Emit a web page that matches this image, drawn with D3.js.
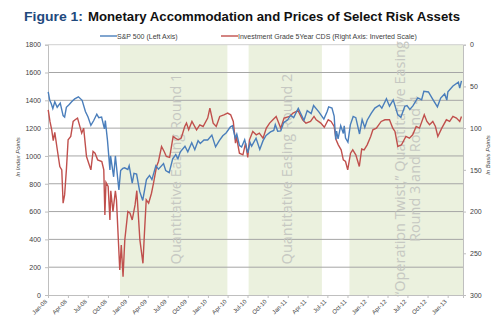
<!DOCTYPE html>
<html lang="en">
<head>
  <meta charset="UTF-8" />
  <title>Monetary Accommodation and Prices of Select Risk Assets</title>
  <script src="https://cdn.jsdelivr.net/npm/d3@7"></script>
  <style>
    body { margin: 0; background: #fff; }
    svg { font-family: "Liberation Sans", Arial, sans-serif; }
    .axis path, .axis line { stroke: #bfbfbf; }
    .axis text { fill: #404040; font-size: 7px; }
  </style>
</head>
<body>
  <svg id="chart" width="500" height="323"></svg>

  <script>
    // S&P 500 index level (left axis)
    let sp500 = [
      ["2008-01-02", 1460], ["2008-01-09", 1400], ["2008-01-16", 1375], ["2008-01-23", 1340],
      ["2008-02-01", 1390], ["2008-02-12", 1350], ["2008-02-26", 1380], ["2008-03-10", 1290],
      ["2008-03-17", 1280], ["2008-03-25", 1350], ["2008-04-07", 1370], ["2008-04-18", 1390],
      ["2008-05-02", 1410], ["2008-05-19", 1425], ["2008-06-05", 1400], ["2008-06-20", 1320],
      ["2008-07-02", 1280], ["2008-07-15", 1220], ["2008-07-28", 1255], ["2008-08-11", 1300],
      ["2008-08-20", 1275], ["2008-09-02", 1280], ["2008-09-15", 1195], ["2008-09-19", 1255],
      ["2008-09-29", 1110], ["2008-10-10", 900], ["2008-10-13", 1000], ["2008-10-27", 850],
      ["2008-11-04", 1000], ["2008-11-20", 755], ["2008-11-28", 895], ["2008-12-08", 910],
      ["2008-12-16", 915], ["2008-12-31", 903], ["2009-01-06", 930], ["2009-01-20", 805],
      ["2009-01-28", 875], ["2009-02-09", 870], ["2009-02-23", 745], ["2009-03-09", 680],
      ["2009-03-26", 830], ["2009-04-09", 860], ["2009-04-20", 830], ["2009-05-08", 930],
      ["2009-05-20", 905], ["2009-06-12", 945], ["2009-06-22", 895], ["2009-07-08", 880],
      ["2009-07-24", 980], ["2009-08-07", 1010], ["2009-08-17", 980], ["2009-08-28", 1030],
      ["2009-09-18", 1070], ["2009-10-01", 1030], ["2009-10-19", 1095], ["2009-11-02", 1045],
      ["2009-11-17", 1110], ["2009-11-27", 1090], ["2009-12-14", 1115], ["2009-12-31", 1115],
      ["2010-01-19", 1150], ["2010-02-05", 1065], ["2010-02-22", 1110], ["2010-03-10", 1145],
      ["2010-03-25", 1165], ["2010-04-14", 1210], ["2010-04-23", 1217], ["2010-05-06", 1128],
      ["2010-05-13", 1157], ["2010-05-25", 1075], ["2010-06-04", 1065], ["2010-06-18", 1117],
      ["2010-07-02", 1022], ["2010-07-13", 1095], ["2010-07-20", 1070], ["2010-08-09", 1127],
      ["2010-08-26", 1047], ["2010-09-10", 1110], ["2010-09-24", 1148], ["2010-10-14", 1173],
      ["2010-10-29", 1183], ["2010-11-05", 1225], ["2010-11-16", 1178], ["2010-11-30", 1180],
      ["2010-12-13", 1240], ["2010-12-31", 1258], ["2011-01-14", 1293], ["2011-01-28", 1276],
      ["2011-02-18", 1343], ["2011-03-16", 1256], ["2011-03-31", 1326], ["2011-04-18", 1305],
      ["2011-04-29", 1363], ["2011-05-23", 1317], ["2011-06-15", 1265], ["2011-06-30", 1320],
      ["2011-07-07", 1353], ["2011-07-22", 1345], ["2011-08-01", 1287], ["2011-08-08", 1119],
      ["2011-08-12", 1178], ["2011-08-19", 1123], ["2011-08-31", 1218], ["2011-09-12", 1162],
      ["2011-09-16", 1216], ["2011-09-22", 1129], ["2011-10-03", 1099], ["2011-10-14", 1224],
      ["2011-10-27", 1284], ["2011-11-08", 1275], ["2011-11-25", 1158], ["2011-12-07", 1261],
      ["2011-12-19", 1205], ["2011-12-30", 1257], ["2012-01-18", 1308], ["2012-02-03", 1344],
      ["2012-02-24", 1365], ["2012-03-06", 1343], ["2012-03-27", 1412], ["2012-04-10", 1358],
      ["2012-04-27", 1403], ["2012-05-18", 1295], ["2012-06-01", 1278], ["2012-06-19", 1357],
      ["2012-06-29", 1362], ["2012-07-12", 1335], ["2012-07-26", 1360], ["2012-08-17", 1418],
      ["2012-09-04", 1404], ["2012-09-14", 1465], ["2012-10-05", 1460], ["2012-10-23", 1413],
      ["2012-11-15", 1353], ["2012-11-30", 1416], ["2012-12-18", 1446], ["2012-12-28", 1402],
      ["2013-01-02", 1462], ["2013-01-25", 1503], ["2013-02-19", 1530], ["2013-02-25", 1488],
      ["2013-03-05", 1540]
    ];

    // investment grade 5y CDS spread, bp (right axis, inverted)
    let cds = [
      ["2008-01-02", 78], ["2008-01-10", 92], ["2008-01-18", 102], ["2008-01-25", 115],
      ["2008-02-01", 105], ["2008-02-12", 125], ["2008-02-24", 146], ["2008-03-04", 150],
      ["2008-03-10", 190], ["2008-03-17", 180], ["2008-03-25", 150], ["2008-04-02", 114],
      ["2008-04-14", 110], ["2008-04-25", 92], ["2008-05-04", 90], ["2008-05-15", 88],
      ["2008-06-03", 106], ["2008-06-12", 100], ["2008-06-25", 134], ["2008-07-15", 150],
      ["2008-07-25", 128], ["2008-08-03", 130], ["2008-08-15", 138], ["2008-09-03", 140],
      ["2008-09-12", 150], ["2008-09-17", 204], ["2008-09-22", 165], ["2008-10-02", 170],
      ["2008-10-10", 210], ["2008-10-14", 175], ["2008-10-24", 200], ["2008-11-04", 175],
      ["2008-11-09", 186], ["2008-11-24", 270], ["2008-12-01", 240], ["2008-12-09", 278],
      ["2008-12-17", 234], ["2008-12-31", 200], ["2009-01-10", 202], ["2009-01-20", 210],
      ["2009-02-02", 192], ["2009-02-10", 175], ["2009-02-24", 234], ["2009-03-10", 262],
      ["2009-03-17", 225], ["2009-03-25", 186], ["2009-04-05", 190], ["2009-04-18", 178],
      ["2009-04-28", 165], ["2009-05-11", 146], ["2009-05-20", 140], ["2009-06-03", 122],
      ["2009-06-15", 128], ["2009-06-25", 134], ["2009-07-10", 135], ["2009-07-26", 110],
      ["2009-08-05", 112], ["2009-08-18", 114], ["2009-09-01", 112], ["2009-09-17", 98],
      ["2009-09-25", 94], ["2009-10-05", 102], ["2009-10-20", 92], ["2009-11-10", 102],
      ["2009-11-25", 96], ["2009-12-10", 98], ["2009-12-31", 88], ["2010-01-10", 76],
      ["2010-01-25", 94], ["2010-02-08", 98], ["2010-02-24", 86], ["2010-03-15", 84],
      ["2010-04-01", 82], ["2010-04-15", 84], ["2010-04-27", 92], ["2010-05-07", 118],
      ["2010-05-11", 110], ["2010-05-25", 130], ["2010-06-10", 132], ["2010-06-22", 118],
      ["2010-07-02", 135], ["2010-07-10", 114], ["2010-07-25", 104], ["2010-08-10", 108],
      ["2010-08-24", 106], ["2010-09-10", 112], ["2010-09-25", 100], ["2010-10-10", 94],
      ["2010-10-25", 90], ["2010-11-09", 86], ["2010-11-30", 100], ["2010-12-15", 88],
      ["2011-01-10", 86], ["2011-01-25", 82], ["2011-02-17", 79], ["2011-03-10", 90],
      ["2011-03-25", 94], ["2011-04-15", 92], ["2011-05-01", 86], ["2011-05-11", 90],
      ["2011-06-01", 94], ["2011-06-17", 99], ["2011-07-05", 90], ["2011-07-18", 92],
      ["2011-08-01", 98], ["2011-08-10", 114], ["2011-08-20", 120], ["2011-09-02", 126],
      ["2011-09-12", 138], ["2011-09-22", 140], ["2011-10-02", 150], ["2011-10-15", 130],
      ["2011-10-25", 126], ["2011-11-08", 132], ["2011-11-24", 146], ["2011-12-05", 125],
      ["2011-12-16", 126], ["2011-12-30", 120], ["2012-01-15", 110], ["2012-01-25", 102],
      ["2012-02-10", 100], ["2012-03-03", 92], ["2012-03-20", 90], ["2012-04-10", 90],
      ["2012-04-25", 100], ["2012-05-05", 104], ["2012-05-18", 122], ["2012-06-04", 120],
      ["2012-06-24", 110], ["2012-07-10", 112], ["2012-07-25", 108], ["2012-08-10", 98],
      ["2012-08-25", 100], ["2012-09-16", 84], ["2012-09-28", 92], ["2012-10-10", 96],
      ["2012-10-25", 92], ["2012-11-06", 98], ["2012-11-17", 110], ["2012-12-05", 100],
      ["2012-12-26", 90], ["2013-01-10", 92], ["2013-01-25", 86], ["2013-02-10", 88],
      ["2013-02-25", 92], ["2013-03-05", 86]
    ];

    // easing periods (shaded)
    let qeStart = ["2008-11-25", "2010-07-06", "2011-10-10"];
    let qeEnd = ["2010-03-31", "2011-06-06", "2013-03-12"];
    let qeLabels = [
      ["Quantitative Easing Round 1"],
      ["Quantitative Easing Round 2"],
      ["\u201COperation Twist,\u201D Quantitative Easing", "Round 3 and Round 4"]
    ];

    let leftTicks = [0, 200, 400, 600, 800, 1000, 1200, 1400, 1600, 1800];
    let rightTicks = [0, 50, 100, 150, 200, 250, 300];

    let parse = d3.timeParse("%Y-%m-%d");
    let svg = d3.select("#chart");

    let pLeft = 48, pRight = 463, pTop = 44.7, pBottom = 295;

    let x = d3.scaleTime()
      .domain([new Date(2008, 0, 1), new Date(2013, 2, 12)])
      .range([pLeft, pRight]);
    let yL = d3.scaleLinear().domain([0, 1800]).range([pBottom, pTop]);
    let yR = d3.scaleLinear().domain([0, 300]).range([pTop, pBottom]);

    // title, two pieces squeezed to the reference widths
    let titleParts = [
      ["Figure 1:", "#1f497d", 24, 59],
      ["Monetary Accommodation and Prices of Select Risk Assets", "#111", 88, 372]
    ];
    titleParts.forEach(function (p) {
      svg.append("text")
        .attr("x", p[2])
        .attr("y", 20.5)
        .style("font-family", "'Liberation Sans', Arial, sans-serif")
        .style("font-weight", "bold")
        .style("font-size", "13.5px")
        .attr("textLength", p[3])
        .attr("lengthAdjust", "spacingAndGlyphs")
        .attr("fill", p[1])
        .text(p[0]);
    });

    // shaded easing periods
    svg.selectAll(".qe")
      .data(qeStart)
      .enter()
      .append("rect")
      .attr("class", "qe")
      .attr("x", (d) => x(parse(d)))
      .attr("y", pTop)
      .attr("width", (d, i) => x(parse(qeEnd[i])) - x(parse(d)))
      .attr("height", pBottom - pTop)
      .attr("fill", "#ebf1de");

    // gridlines
    svg.selectAll(".grid")
      .data(leftTicks.filter((d) => d > 0))
      .enter()
      .append("line")
      .attr("x1", pLeft)
      .attr("x2", pRight)
      .attr("y1", (d) => yL(d))
      .attr("y2", (d) => yL(d))
      .attr("stroke", (d) => (d == 1800 ? "#d0d0d0" : "#a6a6a6"))
      .attr("stroke-width", 1);

    // easing labels
    let labelX = [175, 286, 399];
    qeLabels.forEach(function (lines, i) {
      lines.forEach(function (line, j) {
        svg.append("text")
          .attr("transform", "translate(" + (labelX[i] + j * 15) + ",169) rotate(-90)")
          .attr("text-anchor", "middle")
          .attr("dominant-baseline", "central")
          .style("font-family", "'Open Sans', 'Liberation Sans', sans-serif")
          .style("font-size", "14.5px")
          .attr("fill", "#c6c8c2")
          .text(line);
      });
    });

    // axes
    svg.append("g")
      .attr("class", "axis")
      .attr("transform", "translate(" + pLeft + ",0)")
      .call(d3.axisLeft(yL).tickValues(leftTicks).tickSize(3).tickPadding(4).tickFormat(d3.format("d")));

    svg.append("g")
      .attr("class", "axis")
      .attr("transform", "translate(" + pRight + ",0)")
      .call(d3.axisRight(yR).tickValues(rightTicks).tickSize(3).tickPadding(4));

    let xAxis = svg.append("g")
      .attr("class", "axis")
      .attr("transform", "translate(0," + pBottom + ")")
      .call(d3.axisBottom(x)
        .tickValues(d3.timeMonth.every(3).range(new Date(2008, 0, 1), new Date(2013, 0, 2)))
        .tickSize(3)
        .tickFormat(d3.timeFormat("%b-%y")));
    xAxis.selectAll("text")
      .style("font-size", "6px")
      .attr("text-anchor", "end")
      .attr("dy", null)
      .attr("y", null)
      .attr("transform", "translate(-1,7) rotate(-45)");

    svg.selectAll(".axis path.domain").attr("stroke", "#bfbfbf");

    // axis titles
    svg.append("text")
      .attr("transform", "translate(20,157) rotate(-90)")
      .attr("text-anchor", "middle")
      .style("font-size", "6px")
      .style("font-style", "italic")
      .attr("fill", "#404040")
      .text("In Index Points");
    svg.append("text")
      .attr("transform", "translate(490,155) rotate(-90)")
      .attr("text-anchor", "middle")
      .style("font-size", "6px")
      .style("font-style", "italic")
      .attr("fill", "#404040")
      .text("In Basis Points");

    // lines
    let spLine = d3.line()
      .x((d) => x(parse(d[0])))
      .y((d) => yL(d[1]));
    let cdsLine = d3.line()
      .x((d) => x(parse(d[0])))
      .y((d) => yR(d[1]));

    svg.append("path")
      .datum(cds)
      .attr("d", cdsLine)
      .attr("fill", "none")
      .attr("stroke", "#c0504d")
      .attr("stroke-width", 1.4);
    svg.append("path")
      .datum(sp500)
      .attr("d", spLine)
      .attr("fill", "none")
      .attr("stroke", "#4a7ebb")
      .attr("stroke-width", 1.4);

    // legend
    let legend = [
      ["S&P 500 (Left Axis)", "#4a7ebb", 100],
      ["Investment Grade 5Year CDS (Right Axis: Inverted Scale)", "#c0504d", 221]
    ];
    legend.forEach(function (d) {
      svg.append("line")
        .attr("x1", d[2]).attr("x2", d[2] + 17)
        .attr("y1", 36).attr("y2", 36)
        .attr("stroke", d[1]).attr("stroke-width", 1.4);
      svg.append("text")
        .attr("x", d[2] + 17)
        .attr("y", 38.5)
        .style("font-size", "7px")
        .attr("fill", "#404040")
        .text(d[0]);
    });
  </script>
</body>
</html>
